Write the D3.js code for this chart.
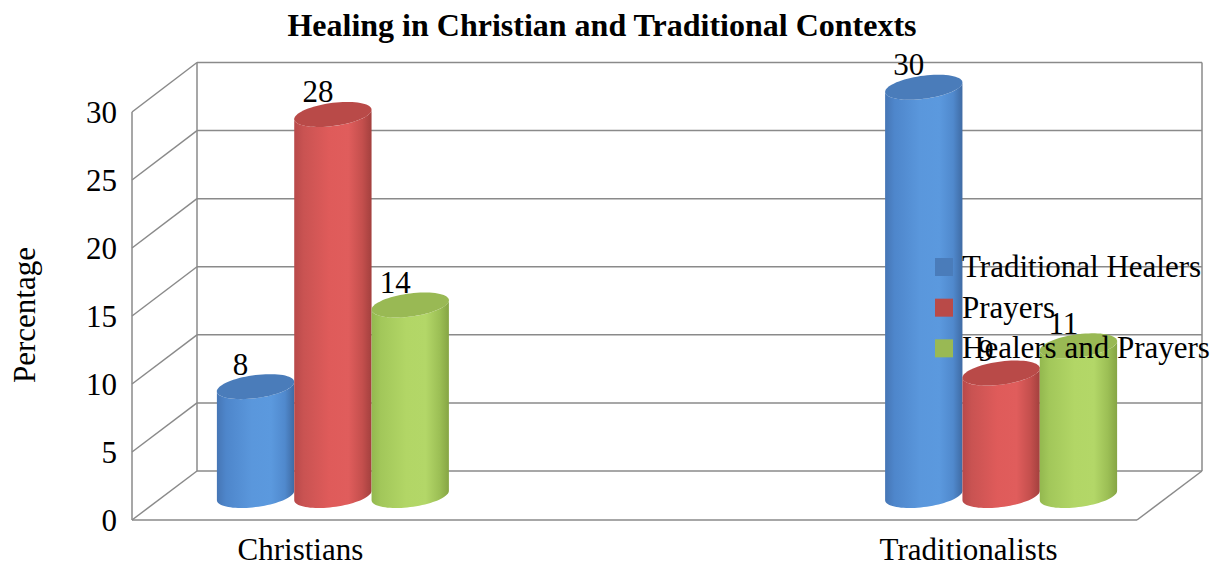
<!DOCTYPE html>
<html>
<head>
<meta charset="utf-8">
<script src="https://cdn.jsdelivr.net/npm/d3@7/dist/d3.min.js"></script>
<style>
  html, body { margin: 0; padding: 0; background: #ffffff; }
  svg { display: block; }
  text { font-family: "Liberation Serif", "Times New Roman", serif; fill: #000; }
</style>
</head>
<body>
<svg id="chart" width="1229" height="565"></svg>
<script>
// ---- data ----
const categories = ["Christians", "Traditionalists"];
const seriesNames = ["Traditional Healers", "Prayers", "Healers and Prayers"];
const traditionalHealers = [8, 30];
const prayers = [28, 9];
const healersAndPrayers = [14, 11];
const yTicks = [0, 5, 10, 15, 20, 25, 30];
const chartTitle = "Healing in Christian and Traditional Contexts";
const yTitle = "Percentage";

const seriesValues = [traditionalHealers, prayers, healersAndPrayers];

// colours per series: body gradient stops and the top face
const palette = [
  { id: "gBlue",  stops: ["#4676b5", "#4e86cb", "#5a97dc", "#5b99de", "#5089cd", "#3f6ba4"], top: "#4a7cba" },
  { id: "gRed",   stops: ["#b8494a", "#c95352", "#df5b5a", "#e05d5c", "#c44f4d", "#a3403e"], top: "#b94a48" },
  { id: "gGreen", stops: ["#93b84f", "#a2c75a", "#b2d666", "#b3d768", "#9cbf55", "#86a544"], top: "#99b954" }
];
const stopOffsets = ["0%", "12%", "45%", "70%", "88%", "100%"];

// ---- layout ----
const svg = d3.select("#chart");
const floorLeft = 132, floorRight = 1137;   // front edge of the floor
const depthDX = 65, depthDY = -49;          // shift from front plane to back wall
const fontSize = 31;

const yFront = d3.scaleLinear().domain([0, 30]).range([520, 112]);
const yBack  = d3.scaleLinear().domain([0, 30]).range([520 + depthDY, 112 + depthDY - 0.5]);
// bars stand half way into the depth
const yMid = v => (yFront(v) + yBack(v)) / 2;

const xCat = d3.scalePoint().domain(categories).range([floorLeft, floorRight]).padding(0.252);
const xSeries = d3.scaleBand().domain(seriesNames).range([-116, 116]).padding(0);

const gridColor = "#8a8a8a";
const grid = svg.append("g").attr("stroke", gridColor).attr("stroke-width", 1.5).attr("fill", "none");

// back wall grid lines
grid.selectAll("line.back").data(yTicks).join("line")
  .attr("class", "back")
  .attr("x1", floorLeft + depthDX).attr("x2", floorRight + depthDX)
  .attr("y1", d => yBack(d)).attr("y2", d => yBack(d));

// left wall diagonals
grid.selectAll("line.side").data(yTicks).join("line")
  .attr("class", "side")
  .attr("x1", floorLeft).attr("x2", floorLeft + depthDX)
  .attr("y1", d => yFront(d)).attr("y2", d => yBack(d));

// wall edges and floor
grid.append("line").attr("x1", floorLeft).attr("x2", floorLeft)
  .attr("y1", yFront(30)).attr("y2", yFront(0));
grid.append("line").attr("x1", floorLeft + depthDX).attr("x2", floorLeft + depthDX)
  .attr("y1", yBack(30)).attr("y2", yBack(0));
grid.append("line").attr("x1", floorRight + depthDX).attr("x2", floorRight + depthDX)
  .attr("y1", yBack(30)).attr("y2", yBack(0));
grid.append("line").attr("x1", floorLeft).attr("x2", floorRight)
  .attr("y1", yFront(0)).attr("y2", yFront(0));
grid.append("line").attr("x1", floorRight).attr("x2", floorRight + depthDX)
  .attr("y1", yFront(0)).attr("y2", yBack(0));

// ---- gradients ----
const defs = svg.append("defs");
palette.forEach(p => {
  const g = defs.append("linearGradient").attr("id", p.id)
    .attr("x1", "0").attr("x2", "1").attr("y1", "0").attr("y2", "0");
  p.stops.forEach((c, i) => g.append("stop").attr("offset", stopOffsets[i]).attr("stop-color", c));
});

// ---- cylinders ----
const rx = xSeries.bandwidth() / 2;
const ry = 11.6;     // depth of the elliptical faces
const tilt = 4.7;    // right side of each face sits higher
const steps = d3.range(0, 41).map(i => i / 40);

function facePoint(cx, cy, t) {
  return [cx + rx * Math.cos(t), cy - ry * Math.sin(t) - tilt * Math.cos(t)];
}

function bodyPath(cx, cTop, cBot) {
  const pts = [];
  // down the left side, along the front of the base, up the right side,
  // back along the front of the top face
  pts.push(facePoint(cx, cTop, Math.PI));
  steps.forEach(u => pts.push(facePoint(cx, cBot, Math.PI + u * Math.PI)));
  steps.forEach(u => pts.push(facePoint(cx, cTop, 2 * Math.PI - u * Math.PI)));
  return d3.line()(pts) + "Z";
}

function topPath(cx, cTop) {
  const pts = d3.range(0, 73).map(i => facePoint(cx, cTop, i / 72 * 2 * Math.PI));
  return d3.line()(pts) + "Z";
}

const bars = [];
categories.forEach((cat, ci) => {
  seriesNames.forEach((s, si) => {
    bars.push({ cat, ci, s, si, value: seriesValues[si][ci] });
  });
});

const barG = svg.append("g");
bars.forEach(d => {
  const cx = xCat(d.cat) + depthDX / 2 + xSeries(d.s) + xSeries.bandwidth() / 2;
  const cBot = yMid(0);
  const cTop = yMid(d.value);
  d.cx = cx; d.cTop = cTop;
  const g = barG.append("g");
  g.append("path").attr("d", bodyPath(cx, cTop, cBot)).attr("fill", `url(#${palette[d.si].id})`);
  g.append("path").attr("d", topPath(cx, cTop)).attr("fill", palette[d.si].top);
});

// ---- value labels ----
svg.append("g").selectAll("text").data(bars).join("text")
  .attr("x", d => d.cx - 15)
  .attr("y", d => d.cTop - 12)
  .attr("text-anchor", "middle")
  .attr("font-size", fontSize)
  .text(d => d.value);

// ---- axis text ----
svg.append("g").selectAll("text").data(yTicks).join("text")
  .attr("x", 117)
  .attr("y", d => yFront(d))
  .attr("dy", "0.34em")
  .attr("text-anchor", "end")
  .attr("font-size", fontSize)
  .text(d => d);

svg.append("g").selectAll("text").data(categories).join("text")
  .attr("x", d => xCat(d))
  .attr("y", 560)
  .attr("text-anchor", "middle")
  .attr("font-size", fontSize)
  .text(d => d);

svg.append("text")
  .attr("transform", "translate(35,315) rotate(-90)")
  .attr("text-anchor", "middle")
  .attr("font-size", fontSize)
  .text(yTitle);

svg.append("text")
  .attr("x", 602).attr("y", 36)
  .attr("text-anchor", "middle")
  .attr("font-size", 32)
  .attr("font-weight", "bold")
  .text(chartTitle);

// ---- legend ----
const legend = svg.append("g").attr("transform", "translate(935,258)");
const legendRow = d3.scaleBand().domain(seriesNames).range([0, 122]);
seriesNames.forEach((s, i) => {
  const row = legend.append("g").attr("transform", `translate(0,${legendRow(s)})`);
  row.append("rect").attr("width", 18).attr("height", 18).attr("fill", palette[i].top);
  row.append("text").attr("x", 27).attr("y", 19).attr("font-size", fontSize).text(s);
});
</script>
</body>
</html>
